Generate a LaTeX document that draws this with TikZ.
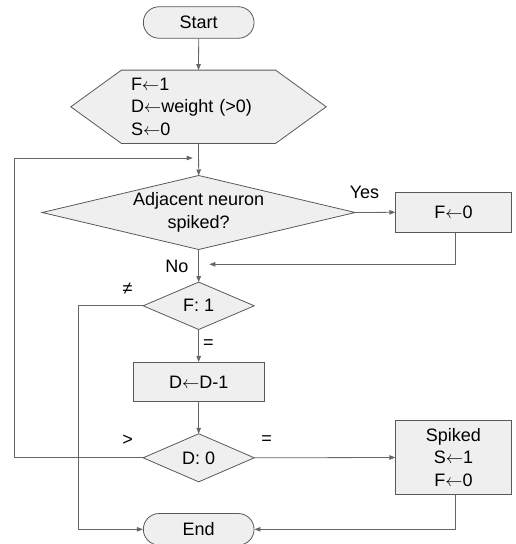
\documentclass[tikz,border=0pt]{standalone}
\usepackage{fontspec}
\setmainfont{Liberation Sans}
\usetikzlibrary{arrows.meta,backgrounds}
\definecolor{boxfill}{HTML}{EFEFEF}
\definecolor{linec}{HTML}{595959}
\definecolor{arrc}{HTML}{666666}
\newcommand{\asg}{\ensuremath{\leftarrow}}
\begin{document}
\begin{tikzpicture}[x=1pt,y=-1pt,
  every node/.style={font=\fontsize{18}{22.5}\selectfont, inner sep=0pt, text=black},
  term/.style={draw=linec, fill=boxfill, line width=0.8pt, rounded corners=15.7pt, minimum width=110.7pt, minimum height=31.5pt},
  proc/.style={draw=linec, fill=boxfill, line width=0.8pt, align=center},
  shapeline/.style={draw=linec, fill=boxfill, line width=0.8pt},
  conn/.style={draw=arrc, line width=0.8pt, -{Triangle[length=6pt,width=4.5pt]}},
  lbl/.style={font=\fontsize{18}{22}\selectfont}
]
\useasboundingbox (0,0) rectangle (516,544);

% nodes
\node[term] (start) at (198.7,22.5) {Start};
\node[minimum width=255pt, minimum height=73pt, text width=135pt, align=left] (init) at (198.5,106.8) {F\asg1\\D\asg weight (>0)\\S\asg0};
\node[minimum width=312.7pt, minimum height=73.6pt, align=center] (adj) at (198.7,212.5) {Adjacent neuron\\spiked?};
\node[proc, minimum width=115.3pt, minimum height=39.6pt] (f0) at (453.4,212.3) {F\asg0};
\node[minimum width=110.7pt, minimum height=47pt] (f1) at (198.7,305.8) {F: 1};
\node[proc, minimum width=130.7pt, minimum height=39.3pt] (dec) at (198.7,382) {D\asg D-1};
\node[minimum width=110.7pt, minimum height=47.7pt] (d0) at (198.7,457.8) {D: 0};
\node[proc, minimum width=115.3pt, minimum height=73.6pt] (spk) at (453.4,457.5) {Spiked\\S\asg1\\F\asg0};
\node[term] (endn) at (198.7,529.3) {End};

\begin{scope}[on background layer]
  \path[shapeline] (init.west) -- ([xshift=50.7pt]init.north west) -- ([xshift=-50.7pt]init.north east)
     -- (init.east) -- ([xshift=-50.7pt]init.south east) -- ([xshift=50.7pt]init.south west) -- cycle;
  \path[shapeline] (adj.north) -- (adj.east) -- (adj.south) -- (adj.west) -- cycle;
  \path[shapeline] (f1.north) -- (f1.east) -- (f1.south) -- (f1.west) -- cycle;
  \path[shapeline] (d0.north) -- (d0.east) -- (d0.south) -- (d0.west) -- cycle;
\end{scope}

% labels
\node[lbl] (yes) at (364.5,192.5) {Yes};
\node[lbl] (no) at (177,266.5) {No};
\node[lbl] (ne) at (127.5,289) {≠};
\node[lbl] (eq1) at (208.5,344.5) {=};
\node[lbl] (gt) at (127.7,440) {>};
\node[lbl] (eq2) at (266.7,440) {=};

% helper coordinates
\coordinate (loopL) at (14.3,158);
\coordinate (loopEnd) at (192.7,158);
\coordinate (merge) at (209.3,264.3);

% connectors
\draw[conn] (start.south) -- (init.north);
\draw[conn] (init.south) -- (adj.north);
\draw[conn] (adj.east) -- (f0.west);
\draw[conn] ([xshift=2.3pt]f0.south) |- (merge);
\draw[conn] (adj.south) -- (f1.north);
\draw[conn] (f1.west) -| ([xshift=-65pt]endn.west) -- (endn.west);
\draw[conn] (f1.south) -- (dec.north);
\draw[conn] (dec.south) -- (d0.north);
\draw[conn] (d0.east) -- (spk.west);
\draw[conn] (d0.west) -- (d0.west -| loopL) -- (loopL) -- (loopEnd);
\draw[conn] ([xshift=2.3pt]spk.south) |- (endn.east);
\end{tikzpicture}
\end{document}
